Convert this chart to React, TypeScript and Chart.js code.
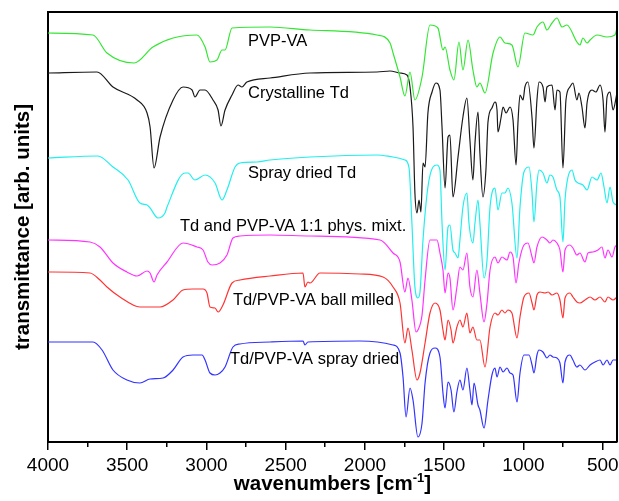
import { useEffect, useRef } from 'react';
import { Chart, registerables } from 'chart.js';

Chart.register(...registerables);

const FONT = '"Liberation Sans", Arial, sans-serif';

const xTicks = [4000, 3500, 3000, 2500, 2000, 1500, 1000, 500];
const xMinorTicks = [3750, 3250, 2750, 2250, 1750, 1250, 750];

const pvpvaWn = [4000,3716,3628,3457,3338,3211,3060,3009,2978,2934,2902,2883,2839,2599,2347,1924,1842,1823,1779,1748,1716,1685,1640,1590,1540,1508,1495,1464,1439,1407,1382,1350,1319,1294,1275,1243,1192,1148,1117,1073,1035,991,940,915,877,852,820,789,757,726,663,644,625,599,580,536,473,423,410];
const pvpvaT = [409,407,389,379,395,404,407,395,380,382,392,392,414,415,412,407,399,389,365,346,370,342,365,417,414,392,395,372,362,400,372,402,372,355,359,349,389,405,399,397,375,409,407,415,420,412,419,424,415,417,400,397,404,399,402,407,405,407,414];

const crystWn = [4000,3691,3590,3438,3375,3356,3331,3293,3211,3148,3091,3073,3041,3009,2959,2927,2909,2883,2839,2801,2776,2745,2599,2347,1924,1842,1779,1735,1716,1697,1685,1672,1659,1647,1634,1621,1603,1577,1552,1527,1514,1495,1476,1464,1445,1413,1382,1357,1338,1319,1306,1287,1275,1256,1237,1224,1199,1180,1167,1161,1142,1129,1110,1085,1066,1047,1035,1022,1003,991,972,946,934,915,902,877,864,852,820,801,789,770,751,732,707,688,663,650,631,612,599,568,543,517,498,486,473,454,435,410];
const crystT = [369,370,355,342,329,315,274,305,342,355,352,345,352,352,342,332,316,332,347,357,355,360,364,369,370,371,369,367,355,315,249,229,242,230,279,275,329,350,359,352,315,254,305,307,245,285,325,344,302,262,299,330,289,245,272,320,334,340,332,310,324,335,329,335,322,277,319,347,342,355,360,324,294,342,360,355,340,355,357,332,352,350,274,342,355,359,342,349,335,314,339,352,350,357,342,310,345,350,332,349];

const sprayTdWn = [4000,3685,3590,3495,3420,3375,3356,3306,3262,3249,3136,3117,3073,3009,2946,2902,2871,2820,2789,2681,2599,2347,1924,1823,1748,1722,1704,1685,1666,1653,1634,1603,1571,1546,1527,1514,1495,1476,1464,1445,1432,1413,1401,1382,1357,1344,1319,1306,1287,1275,1249,1230,1211,1180,1161,1136,1117,1098,1073,1041,1022,997,965,946,934,915,902,877,852,833,814,789,770,751,738,719,694,675,656,625,599,568,536,511,492,473,454,435,410];
const sprayTdT = [284,286,275,262,239,237,234,224,229,235,269,269,262,267,259,242,252,275,279,280,282,285,287,285,282,274,219,155,144,150,202,255,275,277,272,219,172,215,217,192,189,184,202,235,249,219,199,219,242,219,164,182,235,254,232,249,249,254,239,184,235,270,275,249,220,259,272,269,259,267,265,252,245,200,242,265,272,262,259,257,252,265,262,269,255,239,255,240,237];

const physMixWn = [4000,3735,3672,3590,3502,3438,3375,3356,3331,3312,3249,3148,3060,3022,2991,2965,2915,2871,2833,2789,2599,2347,1905,1823,1779,1748,1729,1704,1678,1666,1640,1621,1590,1546,1527,1508,1495,1476,1464,1445,1420,1401,1382,1357,1338,1319,1294,1275,1249,1230,1211,1180,1161,1136,1104,1085,1066,1047,1029,997,972,946,934,915,883,852,833,814,789,770,751,738,707,688,663,644,612,593,562,530,505,486,467,441,423,410];
const physMixT = [202,200,195,179,170,166,171,169,160,167,180,199,195,192,180,177,179,187,204,206,207,206,202,189,180,150,164,142,110,112,127,162,202,202,189,172,149,169,164,132,155,175,172,189,155,145,172,149,120,139,172,185,179,185,182,190,185,159,179,197,199,185,179,195,205,202,199,202,199,192,170,192,197,194,187,189,180,189,190,192,195,184,192,185,195,197];

const ballMillWn = [4000,3735,3672,3628,3546,3420,3293,3211,3148,3085,3022,2997,2978,2946,2927,2896,2839,2789,2599,2391,2379,2360,2347,2284,2032,1886,1823,1779,1748,1729,1704,1672,1653,1621,1590,1558,1527,1508,1495,1476,1457,1445,1420,1401,1382,1357,1338,1319,1294,1275,1243,1211,1180,1161,1136,1117,1098,1073,1041,1022,997,965,946,934,915,896,864,845,820,789,770,751,738,707,688,663,644,612,580,549,517,486,467,435,410];
const ballMillT = [170,169,162,155,145,135,135,142,152,153,153,149,135,134,130,137,159,162,166,169,155,160,159,169,168,165,155,139,99,114,92,62,69,99,129,139,132,112,102,122,112,99,115,122,115,129,109,115,102,102,75,115,129,127,132,129,132,129,104,125,145,149,139,132,147,150,149,150,147,149,142,124,144,149,145,140,139,142,145,142,145,140,145,142,145];

const sprayMixWn = [4000,3716,3659,3590,3502,3420,3356,3274,3211,3148,3085,3028,3009,2978,2946,2915,2883,2833,2789,2599,2391,2379,2360,2032,1823,1779,1760,1741,1716,1697,1666,1640,1621,1590,1558,1527,1508,1495,1476,1457,1439,1420,1401,1382,1357,1338,1325,1312,1287,1275,1249,1224,1199,1180,1167,1148,1129,1104,1085,1066,1041,1022,997,965,946,934,915,902,877,852,833,814,789,770,751,738,707,688,663,644,612,580,549,517,498,473,454,435,410];
const sprayMixT = [100,100,92,72,62,59,63,64,72,85,87,87,82,69,67,69,75,95,98,100,101,97,100,101,97,89,65,25,54,42,5,19,59,89,94,85,49,34,60,52,30,50,62,52,74,52,37,59,37,32,14,42,67,74,65,75,70,74,69,67,40,69,87,87,77,69,87,92,90,84,87,85,84,79,59,80,87,82,75,77,72,77,80,82,77,82,77,82,82];

const seriesNames = ['PVP-VA', 'Crystalline Td', 'Spray dried Td', 'Td and PVP-VA 1:1 phys. mixt.', 'Td/PVP-VA ball milled', 'Td/PVP-VA spray dried'];
const seriesColors = ['#33e633', '#1a1a1a', '#22eeee', '#ff33ff', '#ff3333', '#3333ff'];
const seriesWn = [pvpvaWn, crystWn, sprayTdWn, physMixWn, ballMillWn, sprayMixWn];
const seriesT = [pvpvaT, crystT, sprayTdT, physMixT, ballMillT, sprayMixT];

// label anchor (wavenumber of left edge, transmittance at text middle)
const labelWn = [2738, 2738, 2738, 3167, 2833, 2852];
const labelT = [401, 349, 269, 216, 142, 83];

const annotatePlugin = {
  id: 'annotate',
  afterDraw(chart: any) {
    const ctx: CanvasRenderingContext2D = chart.ctx;
    const area = chart.chartArea;
    const xs = chart.scales.x;
    const ys = chart.scales.y;
    const L = area.left;
    const R = area.right;
    const T = area.top;
    const B = area.bottom;
    ctx.save();
    ctx.setLineDash([]);
    // plot frame (top and right)
    ctx.strokeStyle = '#000';
    ctx.lineWidth = 2;
    ctx.beginPath();
    ctx.moveTo(L - 1, T);
    ctx.lineTo(R, T);
    ctx.lineTo(R, B);
    ctx.stroke();
    ctx.fillStyle = '#000';
    // minor ticks
    for (const v of xMinorTicks) {
      const px = Math.round(xs.getPixelForValue(v));
      ctx.fillRect(px - 1, B, 1.5, 5);
    }
    // series labels
    ctx.font = `16.5px ${FONT}`;
    ctx.textBaseline = 'middle';
    ctx.textAlign = 'left';
    seriesNames.forEach((name: string, i: number) => {
      ctx.fillText(name, xs.getPixelForValue(labelWn[i]), ys.getPixelForValue(labelT[i]));
    });
    // x title with superscript
    const cx = (L + R) / 2;
    const base = 490;
    ctx.textBaseline = 'alphabetic';
    const big = `bold 20.5px ${FONT}`;
    const small = `bold 13px ${FONT}`;
    const p1 = 'wavenumbers [cm';
    const p2 = '-1';
    const p3 = ']';
    ctx.font = big;
    const w1 = ctx.measureText(p1).width;
    const w3 = ctx.measureText(p3).width;
    ctx.font = small;
    const w2 = ctx.measureText(p2).width;
    let x0 = cx - (w1 + w2 + w3) / 2;
    ctx.font = big;
    ctx.fillText(p1, x0, base);
    x0 += w1;
    ctx.font = small;
    ctx.fillText(p2, x0, base - 8);
    x0 += w2;
    ctx.font = big;
    ctx.fillText(p3, x0, base);
    // y title
    ctx.translate(29, (T + B) / 2);
    ctx.rotate(-Math.PI / 2);
    ctx.textAlign = 'center';
    ctx.font = big;
    ctx.fillText('transmittance [arb. units]', 0, 0);
    ctx.restore();
  },
};

export default function App() {
  const ref = useRef<HTMLCanvasElement | null>(null);
  useEffect(() => {
    if (!ref.current) return;
    const chart = new Chart(ref.current, {
      type: 'line',
      data: {
        datasets: seriesNames.map((name, i) => ({
          label: name,
          data: seriesWn[i].map((w, j) => ({ x: w, y: seriesT[i][j] })),
          borderColor: seriesColors[i],
          borderWidth: 1.2,
          pointRadius: 0,
          fill: false,
          cubicInterpolationMode: 'monotone' as const,
        })),
      },
      options: {
        animation: false,
        responsive: false,
        layout: { padding: { left: 0, right: 2, top: 12, bottom: 0 } },
        plugins: { legend: { display: false }, tooltip: { enabled: false }, title: { display: false } },
        scales: {
          x: {
            type: 'linear',
            position: 'bottom',
            reverse: true,
            min: 410,
            max: 4000,
            afterBuildTicks: (scale: any) => {
              scale.ticks = xTicks.map((v) => ({ value: v }));
            },
            afterFit: (scale: any) => {
              scale.height = 59;
              scale.paddingLeft = 0;
              scale.paddingRight = 0;
            },
            ticks: {
              color: '#000',
              font: { size: 19, family: FONT },
              padding: 4,
              maxRotation: 0,
              autoSkip: false,
              callback: (v: any) => String(v),
            },
            grid: { display: true, drawOnChartArea: false, drawTicks: true, tickLength: 8, color: '#000', lineWidth: 1.5 },
            border: { display: true, color: '#000', width: 2 },
          },
          y: {
            type: 'linear',
            position: 'left',
            min: 0,
            max: 430,
            afterFit: (scale: any) => {
              scale.width = 48;
              scale.paddingTop = 0;
              scale.paddingBottom = 0;
            },
            ticks: { display: false },
            grid: { display: false },
            border: { display: true, color: '#000', width: 2 },
          },
        },
      },
      plugins: [annotatePlugin],
    });
    return () => chart.destroy();
  }, []);
  return (
    <div style={{ position: 'fixed', left: 0, top: 0, width: 619, height: 501, background: '#fff' }}>
      <canvas ref={ref} width={619} height={501} style={{ display: 'block' }} />
    </div>
  );
}
